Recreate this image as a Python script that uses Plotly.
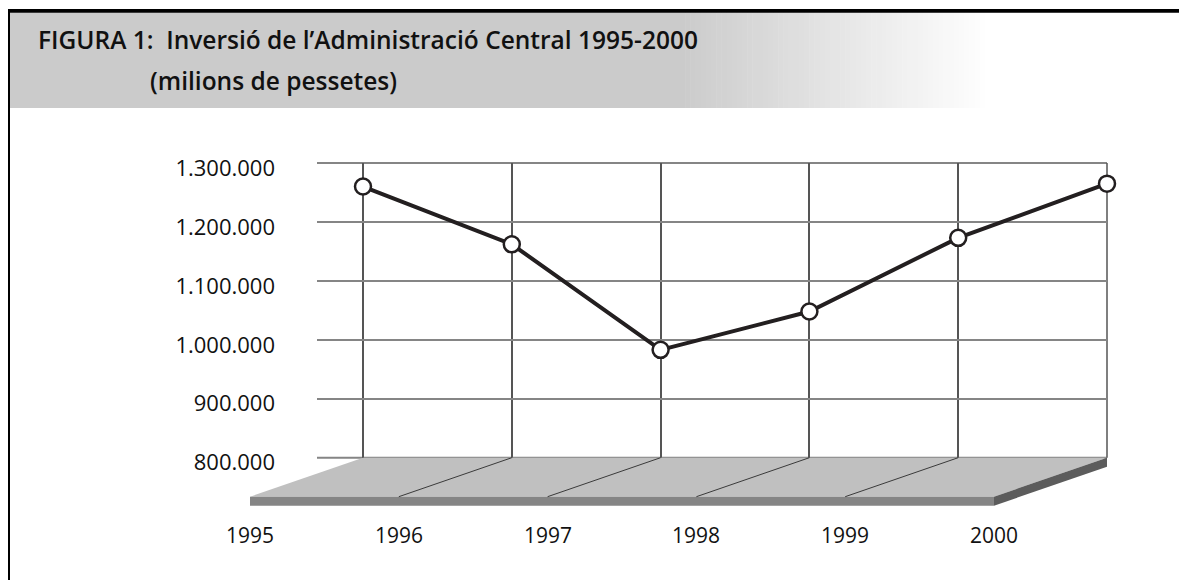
import plotly.graph_objects as go

# ---------------- data ----------------
years = ["1995", "1996", "1997", "1998", "1999", "2000"]
values = [1260000, 1162000, 983000, 1048000, 1173000, 1265000]
y_ticks = [800000, 900000, 1000000, 1100000, 1200000, 1300000]
title_line1 = "FIGURA 1:  Inversió de l’Administració Central 1995-2000"
title_line2 = "(milions de pessetes)"

# ---------------- layout constants (pixels, page coordinates) ----------------
W, H = 1187, 580
PAGE_OFF = 8          # default body margin of the html page
WALL_L, WALL_R, WALL_T, WALL_B = 317, 1107, 163, 457.7
FIRST_CAT_PX = 363
DEPTH_DX, DEPTH_DY = -113, 39
FRONT_THICK = 9
FONT = "Open Sans"
INK = "#231f20"
HGRID = "#858585"
VGRID = "#555555"

n = len(years)
idx = list(range(n))
unit = (WALL_R - FIRST_CAT_PX) / (n - 1)
xmin = -(FIRST_CAT_PX - WALL_L) / unit
xmax = n - 1
ymin, ymax = y_ticks[0], y_ticks[-1]

def px(x):
    return (x - PAGE_OFF) / W

def py(y):
    return 1 - (y - PAGE_OFF) / H

def xd(i):
    return (i - xmin) / (xmax - xmin)

dxd = DEPTH_DX / (WALL_R - WALL_L)
dyd = -DEPTH_DY / (WALL_B - WALL_T)
thd = FRONT_THICK / (WALL_B - WALL_T)

fig = go.Figure()
fig.add_trace(go.Scatter(
    x=idx, y=values, mode="lines+markers",
    line=dict(color=INK, width=4),
    marker=dict(size=16, color="white", line=dict(color=INK, width=2.5)),
    cliponaxis=False, hoverinfo="skip", showlegend=False,
))

shapes = []
# title band: solid part + gradient fade to white
BAND_T, BAND_B = 12.5, 108
GRAD_START, GRAD_END = 680, 990
shapes.append(dict(type="rect", xref="paper", yref="paper", layer="below",
                   x0=px(9), x1=px(GRAD_START), y0=py(BAND_B), y1=py(BAND_T),
                   fillcolor="rgb(203,203,203)", line=dict(width=0)))
steps = 60
for k in range(steps):
    a = GRAD_START + (GRAD_END - GRAD_START) * k / steps
    b = GRAD_START + (GRAD_END - GRAD_START) * (k + 1) / steps + 0.5
    t = (k + 0.5) / steps
    c = int(round(203 + (255 - 203) * t))
    shapes.append(dict(type="rect", xref="paper", yref="paper", layer="below",
                       x0=px(a), x1=px(b), y0=py(BAND_B), y1=py(BAND_T),
                       fillcolor=f"rgb({c},{c},{c})", line=dict(width=0)))
# borders
shapes.append(dict(type="rect", xref="paper", yref="paper",
                   x0=px(8), x1=1, y0=py(12.7), y1=py(9),
                   fillcolor="#000000", line=dict(width=0)))
shapes.append(dict(type="rect", xref="paper", yref="paper",
                   x0=px(8), x1=px(10), y0=0, y1=py(9),
                   fillcolor="#000000", line=dict(width=0)))

# back-wall edge lines (top, bottom, right) that plotly omits at axis ends
for (ax0, ay0, ax1, ay1, col, wid) in [(0, 1, 1, 1, HGRID, 2), (0, 0, 1, 0, HGRID, 2),
                                       (1, 0, 1, 1, VGRID, 1.5)]:
    shapes.append(dict(type="line", xref="x domain", yref="y domain", layer="below",
                       x0=ax0, y0=ay0, x1=ax1, y1=ay1,
                       line=dict(color=col, width=wid)))

# floor (pseudo-3D base) in axis-domain units
x0b, x1b = xd(0), xd(n - 1)
shapes.append(dict(type="path", xref="x domain", yref="y domain",
                   path=f"M{x0b},0 L{x1b},0 L{x1b+dxd},{dyd} L{x0b+dxd},{dyd} Z",
                   fillcolor="#c0c0c0", line=dict(width=0)))
shapes.append(dict(type="path", xref="x domain", yref="y domain",
                   path=f"M{x0b+dxd},{dyd} L{x1b+dxd},{dyd} L{x1b+dxd},{dyd-thd} L{x0b+dxd},{dyd-thd} Z",
                   fillcolor="#858585", line=dict(width=0)))
shapes.append(dict(type="path", xref="x domain", yref="y domain",
                   path=f"M{x1b},0 L{x1b},{-thd} L{x1b+dxd},{dyd-thd} L{x1b+dxd},{dyd} Z",
                   fillcolor="#5c5c5c", line=dict(width=0)))
for i in idx[1:-1]:
    shapes.append(dict(type="line", xref="x domain", yref="y domain",
                       x0=xd(i), y0=0, x1=xd(i) + dxd, y1=dyd,
                       line=dict(color="#3a3a3a", width=1)))

annotations = [
    dict(text=title_line1, xref="paper", yref="paper", x=px(36), y=py(39.5),
         xanchor="left", yanchor="middle", showarrow=False,
         font=dict(family=FONT, size=24.5, color="#111111", weight=600)),
    dict(text=title_line2, xref="paper", yref="paper", x=px(148), y=py(80),
         xanchor="left", yanchor="middle", showarrow=False,
         font=dict(family=FONT, size=24.5, color="#111111", weight=600)),
]
for i, yr in zip(idx, years):
    annotations.append(dict(text=yr, xref="x", yref="y domain", x=i, y=0,
                            xshift=DEPTH_DX, yshift=-77, showarrow=False,
                            xanchor="center", yanchor="middle",
                            font=dict(family=FONT, size=21, color="#111111")))

fig.update_layout(
    width=W, height=H, margin=dict(l=0, r=0, t=0, b=0, autoexpand=False),
    paper_bgcolor="white", plot_bgcolor="white",
    separators=",.",
    shapes=shapes, annotations=annotations, showlegend=False,
    xaxis=dict(domain=[px(WALL_L), px(WALL_R)], range=[xmin, xmax],
               tickmode="array", tickvals=idx, showticklabels=False, ticks="",
               showgrid=True, gridcolor=VGRID, gridwidth=1.5, automargin=False,
               zeroline=False, showline=False, fixedrange=True),
    yaxis=dict(domain=[py(WALL_B), py(WALL_T)], range=[ymin, ymax],
               tickmode="array", tickvals=y_ticks, tickformat=",d",
               ticks="", ticklabelstandoff=41, ticklabelshift=5, automargin=False,
               tickfont=dict(family=FONT, size=22, color="#111111"),
               showgrid=True, gridcolor=HGRID, gridwidth=2,
               zeroline=False, showline=False, fixedrange=True),
)

fig.write_html("out.html")
